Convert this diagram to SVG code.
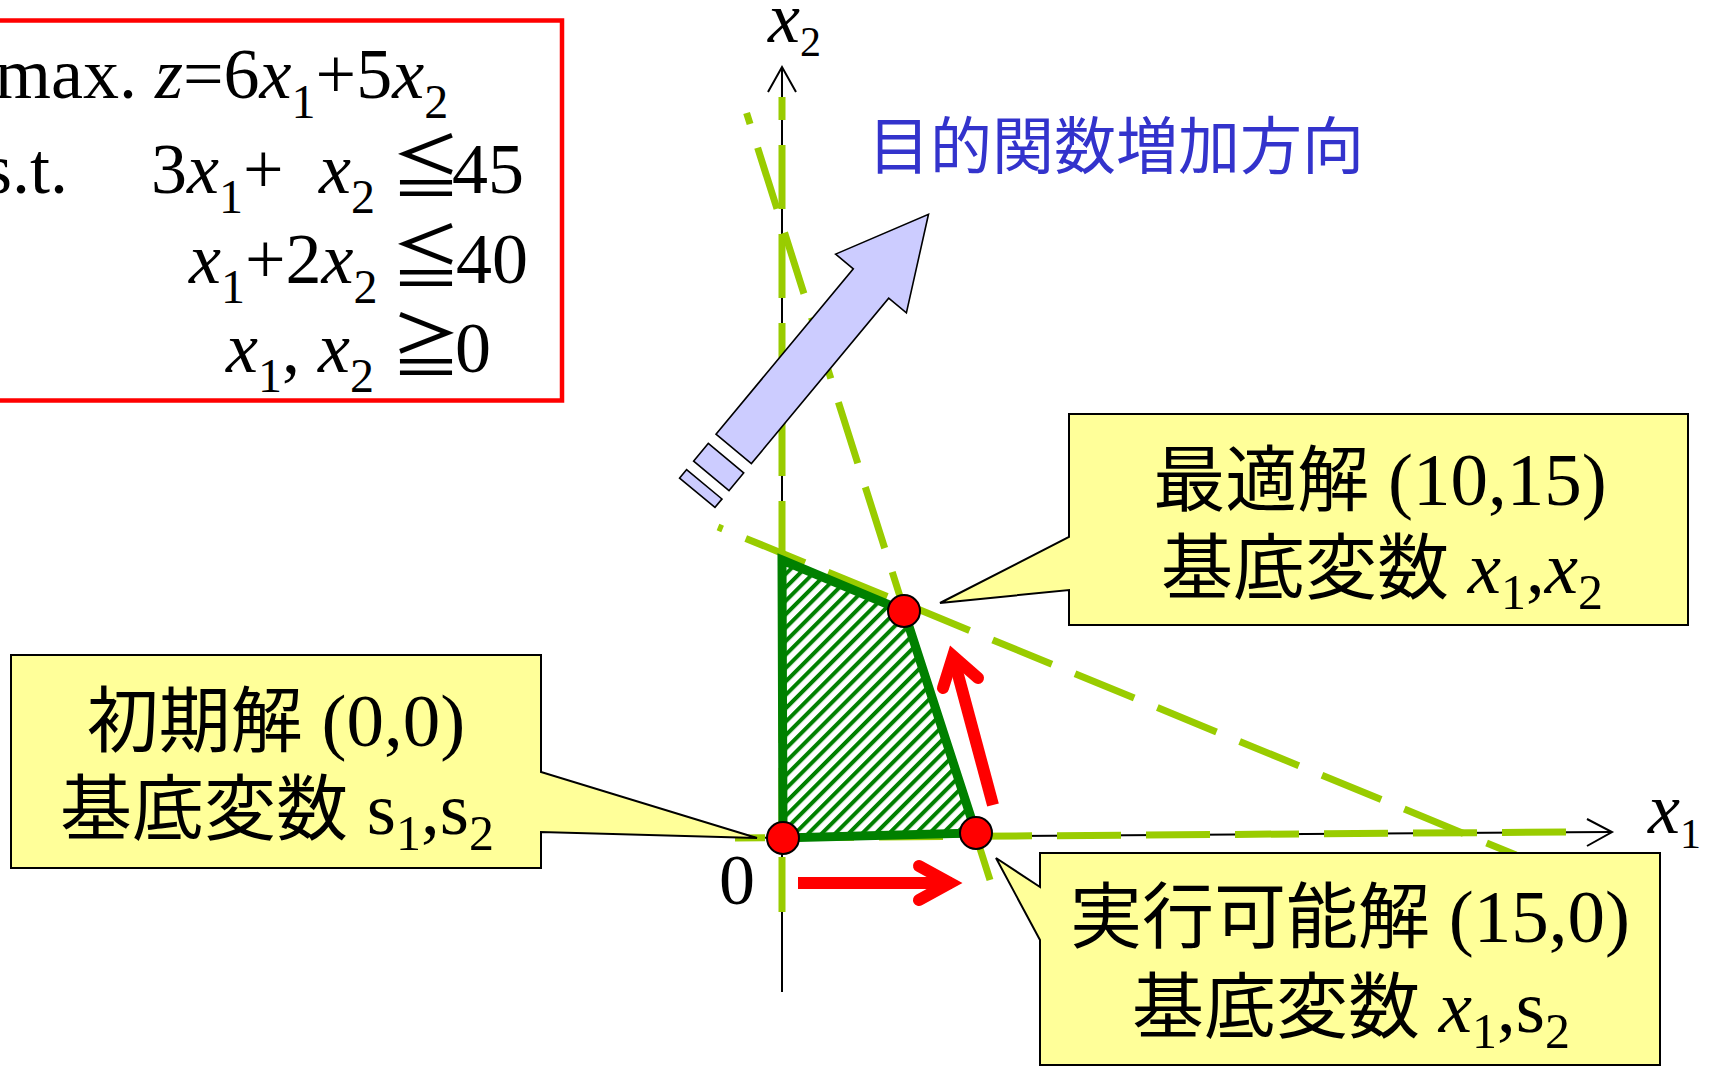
<svg xmlns="http://www.w3.org/2000/svg" width="1710" height="1067" viewBox="0 0 1710 1067">
<style>
.m{font-family:"Liberation Serif","Times New Roman",serif;font-size:72px;fill:#000}
.i{font-style:italic}
.sb{font-size:48px}
.cj{font-family:"Noto Sans CJK JP","Noto Sans CJK SC",sans-serif}
.ax{stroke:#000;stroke-width:2;fill:none}
.lg{stroke:#99CC00;stroke-width:7;fill:none;stroke-dasharray:64 25}
.call{fill:#FFFF99;stroke:#000;stroke-width:2}
.bt{font-family:"Liberation Serif","Times New Roman",serif;font-size:75px;fill:#000;text-anchor:middle}
.bc{font-family:"Noto Sans CJK JP","Noto Sans CJK SC",sans-serif;font-size:72px}
.bs{font-size:50px}
.dot{fill:#FF0000;stroke:#000;stroke-width:2}
.ra{stroke:#FF0000;stroke-width:12;fill:none}
</style>
<defs>
<pattern id="hatch" patternUnits="userSpaceOnUse" width="9.5" height="9.5" patternTransform="rotate(45)">
<rect width="4" height="9.5" fill="#008000"/>
</pattern>
</defs>

<g id="problem">
<rect x="-10" y="20.5" width="572" height="380" fill="#fff" stroke="#FF0000" stroke-width="4.5"/>
<text class="m" x="-5" y="98">max. <tspan class="i">z</tspan>=6<tspan class="i">x</tspan><tspan class="sb" dy="20">1</tspan><tspan dy="-20">+5</tspan><tspan class="i">x</tspan><tspan class="sb" dy="20">2</tspan></text>
<text class="m" y="193"><tspan x="-16">s.t.</tspan><tspan x="151">3</tspan><tspan class="i">x</tspan><tspan class="sb" dy="20">1</tspan><tspan dy="-20">+</tspan><tspan class="i" x="319">x</tspan><tspan class="sb" dy="20">2</tspan><tspan class="cj" x="391" dy="-20" font-size="70">≦</tspan><tspan x="452">45</tspan></text>
<text class="m" y="283"><tspan class="i" x="189">x</tspan><tspan class="sb" dy="20">1</tspan><tspan dy="-20">+2</tspan><tspan class="i">x</tspan><tspan class="sb" dy="20">2</tspan><tspan class="cj" x="391" dy="-20" font-size="70">≦</tspan><tspan x="456">40</tspan></text>
<text class="m" y="372"><tspan class="i" x="226">x</tspan><tspan class="sb" dy="20">1</tspan><tspan dy="-20">, </tspan><tspan class="i">x</tspan><tspan class="sb" dy="20">2</tspan><tspan class="cj" x="391" dy="-20" font-size="70">≧</tspan><tspan x="455">0</tspan></text>
</g>

<g id="axes">
<line class="ax" x1="782" y1="992" x2="782" y2="68"/>
<polyline class="ax" points="768,92 782,67 796,92"/>
<line class="ax" x1="740" y1="838" x2="1611" y2="832"/>
<polyline class="ax" points="1587,819 1612,832 1587,846"/>
<text class="m" x="768" y="42" font-size="54"><tspan class="i">x</tspan><tspan dy="14" font-size="42">2</tspan></text>
<text class="m" x="1648" y="833" font-size="56"><tspan class="i">x</tspan><tspan dy="15" font-size="42">1</tspan></text>
<text class="m" x="737" y="904" font-size="64" text-anchor="middle">0</text>
</g>

<g id="constraints">
<line class="lg" x1="782" y1="97" x2="782" y2="912" stroke-dashoffset="41"/>
<line class="lg" x1="1566" y1="832" x2="735" y2="838"/>
<line class="lg" x1="746.6" y1="113" x2="990" y2="880" stroke-dashoffset="52.5"/>
<line class="lg" x1="718" y1="527" x2="1516" y2="855" stroke-dashoffset="59"/>
</g>

<g id="feasible-region">
<polygon points="782,560 904,611 976,833 783,838" fill="url(#hatch)" stroke="#008000" stroke-width="9"/>
</g>

<g id="objective-arrow">
<g transform="translate(871,283.5) rotate(-50.3)" fill="#CCCCFF" stroke="#000" stroke-width="1.6">
<polygon points="-215,-23 0,-23 0,-46 90,0 0,46 0,23 -215,23"/>
<rect x="-250" y="-23" width="23" height="46"/>
<rect x="-272" y="-23" width="11" height="46"/>
</g>
<text class="cj" x="868" y="169" font-size="62" fill="#3333CC">目的関数増加方向</text>
</g>

<g id="connectors">
<path class="ra" d="M798,883 H952"/>
<path class="ra" d="M919,866 L950,883 L919,900" stroke-linecap="round" stroke-linejoin="miter" stroke-miterlimit="10"/>
<path class="ra" d="M993,805 L953,656"/>
<path class="ra" d="M943,688 L953,656 L978,678" stroke-linecap="round" stroke-linejoin="miter" stroke-miterlimit="10"/>
</g>

<g id="callout-initial">
<path class="call" d="M11,655 H541 V772 L757,838 L541,832 V868 H11 Z"/>
<text class="bt" x="276" y="746"><tspan class="bc">初期解</tspan> (0,0)</text>
<text class="bt" x="277" y="834"><tspan class="bc">基底変数</tspan> s<tspan class="bs" dy="16">1</tspan><tspan dy="-16">,s</tspan><tspan class="bs" dy="16">2</tspan></text>
</g>

<g id="callout-optimal">
<path class="call" d="M1069,414 H1688 V625 H1069 V590 L940,603 L1069,537 Z"/>
<text class="bt" x="1380" y="505"><tspan class="bc">最適解</tspan> (10,15)</text>
<text class="bt" x="1382" y="593"><tspan class="bc">基底変数</tspan> <tspan class="i">x</tspan><tspan class="bs" dy="16">1</tspan><tspan dy="-16">,</tspan><tspan class="i">x</tspan><tspan class="bs" dy="16">2</tspan></text>
</g>

<g id="callout-feasible">
<path class="call" d="M1040,853 H1660 V1065 H1040 V940 L996,858 L1040,887 Z"/>
<text class="bt" x="1350" y="942"><tspan class="bc">実行可能解</tspan> (15,0)</text>
<text class="bt" x="1351" y="1032"><tspan class="bc">基底変数</tspan> <tspan class="i">x</tspan><tspan class="bs" dy="16">1</tspan><tspan dy="-16">,s</tspan><tspan class="bs" dy="16">2</tspan></text>
</g>

<g id="vertices">
<circle class="dot" cx="783" cy="838" r="16"/>
<circle class="dot" cx="976" cy="833" r="16"/>
<circle class="dot" cx="904" cy="611" r="16"/>
</g>
</svg>
